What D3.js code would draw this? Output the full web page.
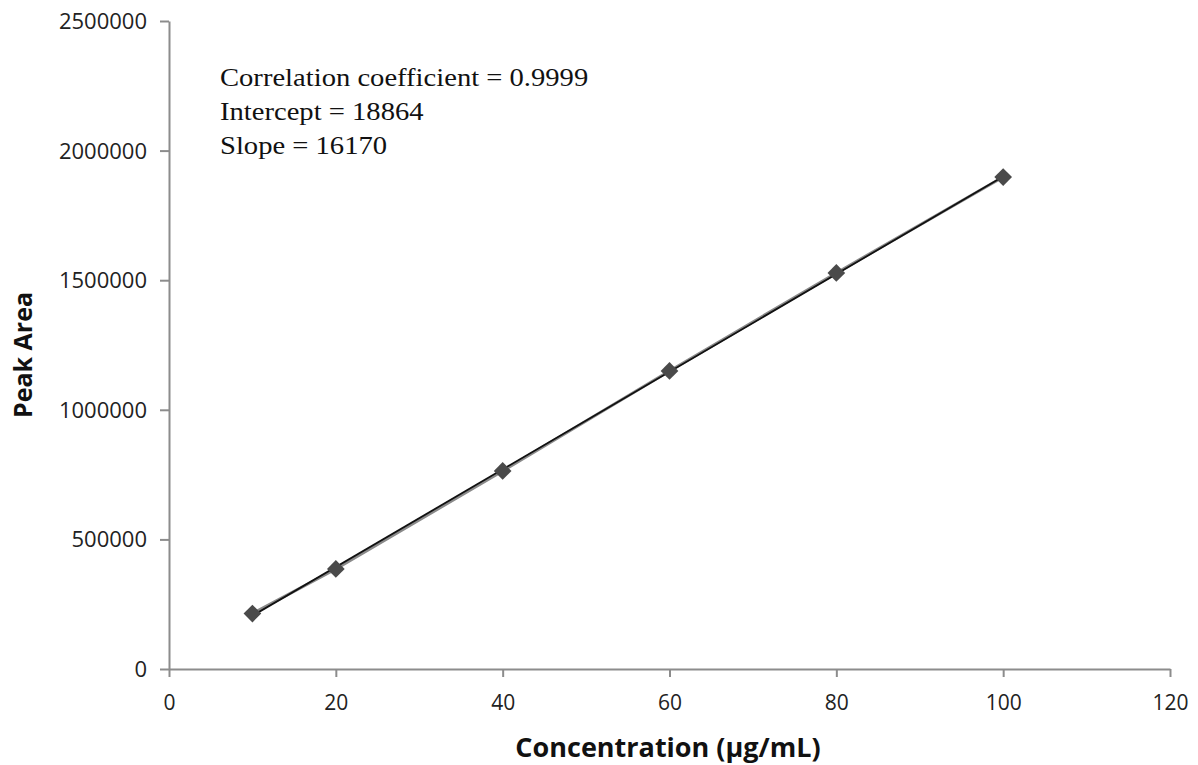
<!DOCTYPE html>
<html>
<head>
<meta charset="utf-8">
<script src="https://cdn.jsdelivr.net/npm/d3@7"></script>
<style>
  body { margin: 0; background: #fff; }
  .tick text { font-family: "Open Sans", "Liberation Sans", sans-serif; fill: #222; }
</style>
</head>
<body>
<div id="chart"></div>
<script>
// calibration data
var concentrations = [10, 20, 40, 60, 80, 100];
var peakAreas = [214000, 386000, 764000, 1150000, 1528000, 1898000];
var xTicks = [0, 20, 40, 60, 80, 100, 120];
var yTicks = [0, 500000, 1000000, 1500000, 2000000, 2500000];
var statsLines = ["Correlation coefficient = 0.9999", "Intercept = 18864", "Slope = 16170"];

const W = 1198, H = 765,
	LEFT = 169, RIGHT = 1170, TOP = 21, BOTTOM = 669,
	AXIS_COLOR = "#8c8c8c";

var svg = d3.select("#chart").append("svg")
	.attr("width", W)
	.attr("height", H);

var x = d3.scaleLinear().domain([0, 120]).range([LEFT, RIGHT]);
var y = d3.scaleLinear().domain([0, 2500000]).range([BOTTOM, TOP]);

var xAxis = svg.append("g")
	.attr("transform", "translate(0," + BOTTOM + ")")
	.call(d3.axisBottom(x).tickValues(xTicks).tickSize(8).tickPadding(18).tickSizeOuter(0));
xAxis.selectAll(".tick text").style("font-size", "21px");
var yAxis = svg.append("g")
	.attr("transform", "translate(" + LEFT + ",0)")
	.call(d3.axisLeft(y).tickValues(yTicks).tickSize(9).tickPadding(13).tickSizeOuter(0).tickFormat(d3.format("d")));
yAxis.selectAll(".tick text").style("font-size", "22px").attr("dy", "0.34em");
svg.selectAll(".domain, .tick line").attr("stroke", AXIS_COLOR).attr("stroke-width", 2);

// series line (grey) and least squares trend line (black)
var pts = concentrations.map((c, i) => ({x: c, y: peakAreas[i]}));
svg.append("path")
	.datum(pts)
	.attr("fill", "none")
	.attr("stroke", "#8a8a8a")
	.attr("stroke-width", 3)
	.attr("d", d3.line().x(d => x(d.x)).y(d => y(d.y)));

var mx = d3.mean(concentrations), my = d3.mean(peakAreas);
var slope = d3.sum(pts, d => (d.x - mx) * (d.y - my)) / d3.sum(pts, d => (d.x - mx) * (d.x - mx));
var icpt = my - slope * mx;
var xs = d3.extent(concentrations);
svg.append("line")
	.attr("x1", x(xs[0])).attr("y1", y(icpt + slope * xs[0]))
	.attr("x2", x(xs[1])).attr("y2", y(icpt + slope * xs[1]))
	.attr("stroke", "#111")
	.attr("stroke-width", 1.8);

svg.selectAll(".pt")
	.data(pts)
	.enter().append("path")
	.attr("class", "pt")
	.attr("transform", d => "translate(" + x(d.x) + "," + y(d.y) + ")")
	.attr("d", d3.symbol().type(d3.symbolDiamond2).size(200))
	.attr("fill", "#4a4a4a");

// stats text (the original is a bit stretched sideways)
svg.append("g")
	.attr("transform", "translate(220,0) scale(1.1,1)")
	.selectAll("text")
	.data(statsLines)
	.enter().append("text")
	.attr("x", 0)
	.attr("y", (d, i) => 86 + i * 34)
	.style("font-family", "'Liberation Serif', 'Times New Roman', serif")
	.style("font-size", "26px")
	.style("fill", "#111")
	.text(d => d);

// axis titles
svg.append("text")
	.attr("x", 668)
	.attr("y", 757)
	.attr("text-anchor", "middle")
	.style("font-family", "'Open Sans', 'Liberation Sans', sans-serif")
	.style("font-weight", "bold")
	.style("font-size", "27px")
	.style("fill", "#111")
	.text("Concentration (µg/mL)");
svg.append("text")
	.attr("transform", "translate(32,355) rotate(-90)")
	.attr("text-anchor", "middle")
	.style("font-family", "'Open Sans', 'Liberation Sans', sans-serif")
	.style("font-weight", "bold")
	.style("font-size", "25px")
	.style("fill", "#111")
	.text("Peak Area");
</script>
</body>
</html>
